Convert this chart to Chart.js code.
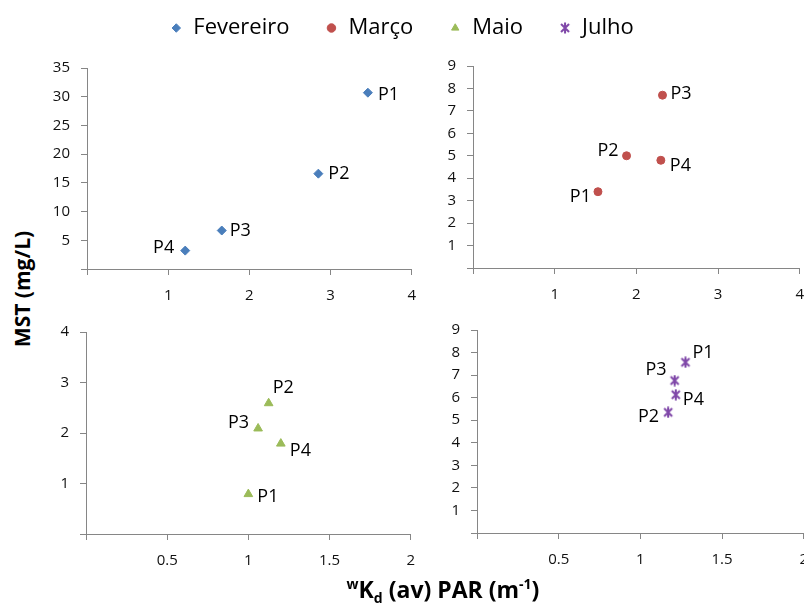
<!DOCTYPE html>
<html>
<head>
<meta charset="utf-8">
<script src="https://cdn.jsdelivr.net/npm/chart.js@4.4.0/dist/chart.umd.min.js"></script>
<style>
  html, body { margin: 0; padding: 0; background: #fff; overflow: hidden; }
  #wrap { position: relative; width: 804px; height: 607px; overflow: hidden; font-family: "Open Sans", sans-serif; color: #000; }
  canvas { position: absolute; }
  .ytitle { position: absolute; left: 22px; top: 289px; transform: translate(-50%, -50%) rotate(-90deg); font-weight: bold; font-size: 21px; white-space: nowrap; }
  .xtitle { position: absolute; left: 443px; top: 590px; transform: translate(-50%, -50%); font-weight: bold; font-size: 23px; white-space: nowrap; }
  .xtitle sup, .xtitle sub { font-size: 14px; }
</style>
</head>
<body>
<div id="wrap">
  <canvas id="legend" width="804" height="160" style="left:0;top:-19px"></canvas>
  <canvas id="fev" width="391" height="261" style="left:37px;top:48px"></canvas>
  <canvas id="mar" width="393" height="262" style="left:423px;top:46px"></canvas>
  <canvas id="mai" width="391" height="262" style="left:36px;top:312px"></canvas>
  <canvas id="jul" width="393" height="263" style="left:427px;top:310px"></canvas>
  <div class="ytitle">MST (mg/L)</div>
  <div class="xtitle"><sup>w</sup>K<sub>d</sub> (av) PAR (m<sup>-1</sup>)</div>
</div>
<script>
// sampling points and months
const pointNames = ['P1', 'P2', 'P3', 'P4'];
const months = ['Fevereiro', 'Março', 'Maio', 'Julho'];

// wKd(av) PAR (x) and MST (y) per month, in P1..P4 order
const kdFev = [3.46, 2.85, 1.66, 1.21];
const mstFev = [30.7, 16.6, 6.7, 3.2];
const kdMar = [1.53, 1.88, 2.32, 2.30];
const mstMar = [3.4, 5.0, 7.7, 4.8];
const kdMai = [1.00, 1.125, 1.06, 1.20];
const mstMai = [0.79, 2.59, 2.09, 1.79];
const kdJul = [1.276, 1.17, 1.21, 1.217];
const mstJul = [7.57, 5.35, 6.76, 6.13];

// axis ranges [max, step]
const xAxisTop = [4, 1];
const xAxisBottom = [2, 0.5];
const yAxisFev = [35, 5];
const yAxisOther = [9, 1];
const yAxisMai = [4, 1];

const FONT = '"Open Sans", sans-serif';
const AXIS = '#868686';

function starMarker(color) {
    const c = document.createElement('canvas');
    c.width = 12; c.height = 12;
    const g = c.getContext('2d');
    g.strokeStyle = color;
    g.lineWidth = 2;
    g.beginPath();
    g.moveTo(2, 2); g.lineTo(10, 10);
    g.moveTo(10, 2); g.lineTo(2, 10);
    g.moveTo(6, 0.5); g.lineTo(6, 11.5);
    g.stroke();
    return c;
}

const styles = [
    { color: '#4A7EBB', pointStyle: 'rectRot', radius: 4.5 },
    { color: '#C0504D', pointStyle: 'circle', radius: 4 },
    { color: '#9BBB59', pointStyle: 'triangle', radius: 5 },
    { color: '#7F47A8', pointStyle: starMarker('#7F47A8'), radius: 6 },
];

// draws P1..P4 next to each point
const pointLabels = {
    id: 'pointLabels',
    afterDatasetsDraw(chart, args, opts) {
        if (!opts.offsets) return;
        const ctx = chart.ctx;
        const meta = chart.getDatasetMeta(0);
        ctx.save();
        ctx.font = '18px ' + FONT;
        ctx.fillStyle = '#000';
        ctx.textBaseline = 'middle';
        meta.data.forEach((pt, i) => {
            const [dx, dy] = opts.offsets[i];
            ctx.textAlign = dx < 0 ? 'right' : 'left';
            ctx.fillText(pointNames[i], pt.x + dx, pt.y + dy);
        });
        ctx.restore();
    }
};

function axis(range, isX) {
    return {
        type: 'linear',
        min: 0,
        max: range[0],
        ticks: {
            stepSize: range[1],
            padding: isX ? 12 : 11,
            color: '#111',
            font: { family: FONT, size: 15 },
            maxRotation: 0,
            autoSkip: false,
            callback: v => v === 0 ? '' : v,
        },
        grid: { drawOnChartArea: false, drawTicks: true, tickLength: 6, color: AXIS },
        border: { color: AXIS, width: 1 },
        afterFit: s => { if (isX) s.height = 40; else s.width = 50; },
    };
}

function makePanel(id, m, xs, ys, xRange, yRange, offsets) {
    const st = styles[m];
    return new Chart(document.getElementById(id), {
        type: 'scatter',
        data: {
            datasets: [{
                label: months[m],
                data: xs.map((x, i) => ({ x: x, y: ys[i] })),
                pointStyle: st.pointStyle,
                pointRadius: st.radius,
                backgroundColor: st.color,
                borderColor: st.color,
                borderWidth: 1,
            }]
        },
        options: {
            responsive: false,
            animation: false,
            events: [],
            layout: { padding: { top: 12, right: 10, left: 0, bottom: 0 } },
            scales: { x: axis(xRange, true), y: axis(yRange, false) },
            plugins: {
                legend: { display: false },
                tooltip: { enabled: false },
                pointLabels: { offsets: offsets },
            }
        },
        plugins: [pointLabels]
    });
}

makePanel('fev', 0, kdFev, mstFev, xAxisTop, yAxisFev,
    [[10, 2], [10, 0], [8, 0], [-11, -3]]);
makePanel('mar', 1, kdMar, mstMar, xAxisTop, yAxisOther,
    [[-7, 5], [-8, -5], [8, -1], [9, 6]]);
makePanel('mai', 2, kdMai, mstMai, xAxisBottom, yAxisMai,
    [[9, 3], [4, -15], [-9, -6], [9, 7]]);
makePanel('jul', 3, kdJul, mstJul, xAxisBottom, yAxisOther,
    [[7, -9], [-9, 5], [-8, -11], [7, 5]]);

// legend-only chart across the top
new Chart(document.getElementById('legend'), {
    type: 'scatter',
    data: {
        datasets: months.map((m, i) => ({
            label: m,
            data: [],
            pointStyle: styles[i].pointStyle,
            backgroundColor: styles[i].color,
            borderColor: styles[i].color,
            borderWidth: 1,
        }))
    },
    options: {
        responsive: false,
        animation: false,
        events: [],
        scales: { x: { display: false }, y: { display: false } },
        plugins: {
            tooltip: { enabled: false },
            legend: {
                display: true,
                position: 'top',
                labels: {
                    usePointStyle: true,
                    boxWidth: 12,
                    boxHeight: 6,
                    padding: 36,
                    color: '#000',
                    font: { family: FONT, size: 22 },
                }
            }
        }
    }
});
</script>
</body>
</html>
